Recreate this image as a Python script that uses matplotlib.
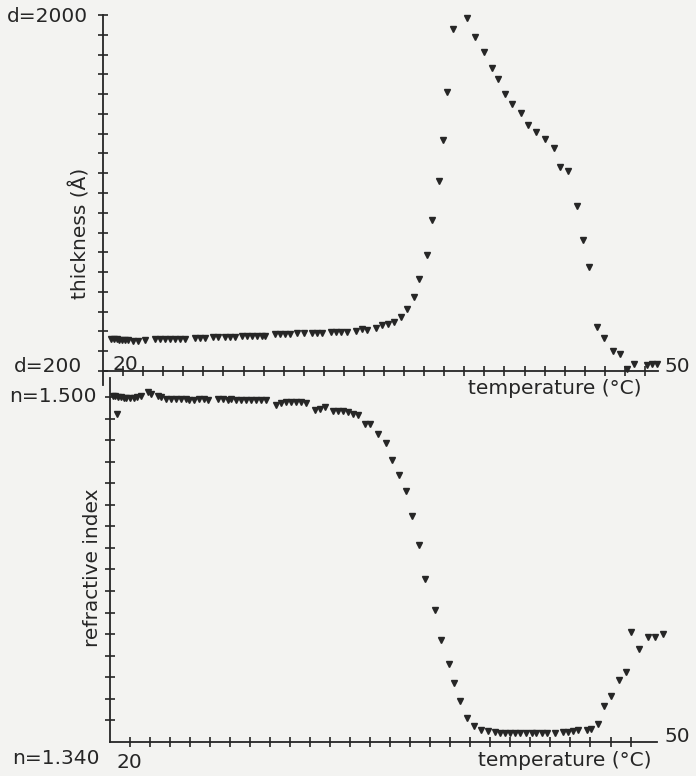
import numpy as np
import matplotlib.pyplot as plt

# thickness vs temperature (upper panel)
t_thick = [20.45, 20.60, 20.74, 20.89, 21.03, 21.18, 21.36, 21.63, 21.90, 22.26,
           22.80, 23.08, 23.35, 23.62, 23.89, 24.16, 24.43, 24.97, 25.25, 25.52,
           25.97, 26.24, 26.60, 26.87, 27.14, 27.50, 27.77, 28.05, 28.32, 28.59,
           28.77, 29.31, 29.59, 29.86, 30.13, 30.49, 30.85, 31.30, 31.57, 31.84,
           32.30, 32.57, 32.84, 33.20, 33.65, 34.01, 34.29, 34.74, 35.10, 35.40,
           35.73, 36.10, 36.44, 36.82, 37.09, 37.52, 37.78, 38.17, 38.39, 38.61,
           38.93, 39.69, 40.13, 40.62, 41.00, 41.37, 41.75, 42.13, 42.57, 42.95,
           43.38, 43.87, 44.36, 44.68, 45.12, 45.61, 45.93, 46.26, 46.69, 47.07,
           47.56, 47.94, 48.30, 48.70, 49.39, 49.66, 49.93]
thickness = [361, 361, 361, 359, 359, 358, 358, 354, 354, 358,
             361, 363, 363, 363, 363, 363, 363, 366, 366, 366,
             370, 370, 370, 371, 371, 375, 375, 376, 376, 378,
             378, 388, 386, 386, 386, 390, 390, 393, 393, 393,
             395, 395, 397, 397, 400, 410, 408, 419, 431, 440,
             450, 472, 514, 573, 667, 786, 961, 1163, 1370, 1611,
             1930, 1985, 1890, 1813, 1734, 1676, 1601, 1548, 1504, 1443,
             1408, 1372, 1329, 1231, 1212, 1036, 864, 725, 421, 365,
             300, 285, 212, 237, 229, 234, 234]

# refractive index vs temperature (lower panel)
t_index = [20.14, 20.30, 20.38, 20.45, 20.60, 20.75, 20.90, 21.10, 21.30, 21.50,
           21.70, 22.07, 22.25, 22.61, 22.80, 23.07, 23.35, 23.62, 23.90, 24.17,
           24.35, 24.63, 24.90, 25.18, 25.36, 25.91, 26.18, 26.46, 26.64, 26.92,
           27.19, 27.47, 27.74, 28.02, 28.29, 28.57, 29.12, 29.39, 29.66, 29.94,
           30.21, 30.49, 30.76, 31.22, 31.49, 31.77, 32.22, 32.50, 32.77, 33.05,
           33.32, 33.60, 33.96, 34.24, 34.70, 35.16, 35.47, 35.83, 36.22, 36.58,
           36.93, 37.30, 37.83, 38.14, 38.58, 38.89, 39.20, 39.57, 39.95, 40.37,
           40.74, 41.10, 41.38, 41.65, 41.93, 42.20, 42.48, 42.84, 43.12, 43.39,
           43.67, 43.94, 44.40, 44.85, 45.13, 45.40, 45.68, 46.14, 46.36, 46.78,
           47.11, 47.46, 47.93, 48.30, 48.57, 49.03, 49.52, 49.89, 50.31]
ref_index = [1.5003, 1.5005, 1.4923, 1.5000, 1.4998, 1.4995, 1.4995, 1.4995, 1.4997, 1.4999,
             1.5003, 1.5023, 1.5016, 1.5003, 1.4998, 1.4993, 1.4993, 1.4993, 1.4993, 1.4993,
             1.4985, 1.4988, 1.4993, 1.4993, 1.4988, 1.4993, 1.4993, 1.4985, 1.4993, 1.4988,
             1.4988, 1.4988, 1.4988, 1.4988, 1.4988, 1.4988, 1.4962, 1.4974, 1.4977, 1.4977,
             1.4977, 1.4977, 1.4970, 1.4942, 1.4946, 1.4954, 1.4935, 1.4935, 1.4935, 1.4931,
             1.4923, 1.4915, 1.4877, 1.4877, 1.4830, 1.4787, 1.4706, 1.4637, 1.4564, 1.4448,
             1.4312, 1.4154, 1.4013, 1.3875, 1.3760, 1.3675, 1.3588, 1.3511, 1.3472, 1.3454,
             1.3449, 1.3446, 1.3442, 1.3442, 1.3442, 1.3442, 1.3442, 1.3442, 1.3442, 1.3443,
             1.3443, 1.3443, 1.3443, 1.3446, 1.3446, 1.3451, 1.3454, 1.3454, 1.3460, 1.3485,
             1.3565, 1.3612, 1.3689, 1.3723, 1.3910, 1.3833, 1.3887, 1.3887, 1.3899]

T_MIN, T_MAX = 20, 50
D_MIN, D_MAX = 200, 2000
N_MIN, N_MAX = 1.340, 1.500

ink = "#262626"
paper = "#f3f3f1"
W, H = 696, 776


def fx(x):
    return x / W


def fy(y):
    return 1 - y / H


def style(ax):
    for s in ["top", "right"]:
        ax.spines[s].set_visible(False)
    for s in ["left", "bottom"]:
        ax.spines[s].set_color(ink)
        ax.spines[s].set_linewidth(1.3)
    ax.set_facecolor("none")
    ax.tick_params(direction="inout", length=7, width=1.2, color=ink,
                   labelleft=False, labelbottom=False)


fig = plt.figure(figsize=(W / 100, H / 100), dpi=100, facecolor=paper)

# upper panel: axes box runs from y=15 to y=385 px, x-axis sits at d=200 (y=371)
ax1 = fig.add_axes([fx(103), fy(385), fx(658) - fx(103), fy(15) - fy(385)])
px_per_d = (371 - 15) / (D_MAX - D_MIN)
ax1.set_ylim(D_MIN - (385 - 371) / px_per_d, D_MAX)
ax1.set_xlim(T_MIN, T_MAX)
ax1.spines["bottom"].set_position(("data", D_MIN))
style(ax1)
ax1.set_yticks(np.arange(D_MIN, D_MAX + 1, 100))
ax1.set_xticks(np.arange(T_MIN + 1.085, T_MAX - 0.5, 1.085))
ax1.plot(t_thick, thickness, ls="none", marker="v", ms=4.2, color=ink,
         clip_on=False)

# lower panel
ax2 = fig.add_axes([fx(110), fy(742), fx(657) - fx(110), fy(378) - fy(742)])
px_per_n = (742 - 397) / (N_MAX - N_MIN)
ax2.set_ylim(N_MIN, N_MAX + (397 - 378) / px_per_n)
ax2.set_xlim(T_MIN, T_MAX)
style(ax2)
ax2.set_yticks(np.arange(1.35, N_MAX + 0.001, 0.01))
ax2.set_xticks(np.arange(T_MIN + 1.098, T_MAX - 0.5, 1.098))
ax2.plot(t_index, ref_index, ls="none", marker="v", ms=4.2, color=ink,
         clip_on=False)

fs = 14.5
kw = dict(fontsize=fs, color=ink, family="DejaVu Sans")
fig.text(fx(88), fy(17), "d=2000", ha="right", va="center", **kw)
fig.text(fx(82), fy(366), "d=200", ha="right", va="center", **kw)
fig.text(fx(113), fy(364), "20", ha="left", va="center", **kw)
fig.text(fx(665), fy(366), "50", ha="left", va="center", **kw)
fig.text(fx(642), fy(388), "temperature (°C)", ha="right", va="center", **kw)
fig.text(fx(80), fy(233), "thickness (Å)", ha="center", va="center",
         rotation=90, **kw)

fig.text(fx(97), fy(397), "n=1.500", ha="right", va="center", **kw)
fig.text(fx(100), fy(759), "n=1.340", ha="right", va="center", **kw)
fig.text(fx(117), fy(762), "20", ha="left", va="center", **kw)
fig.text(fx(665), fy(736), "50", ha="left", va="center", **kw)
fig.text(fx(652), fy(760), "temperature (°C)", ha="right", va="center", **kw)
fig.text(fx(93), fy(568), "refractive index", ha="center", va="center",
         rotation=90, **kw)

fig.savefig("out.png", dpi=100, facecolor=paper)
